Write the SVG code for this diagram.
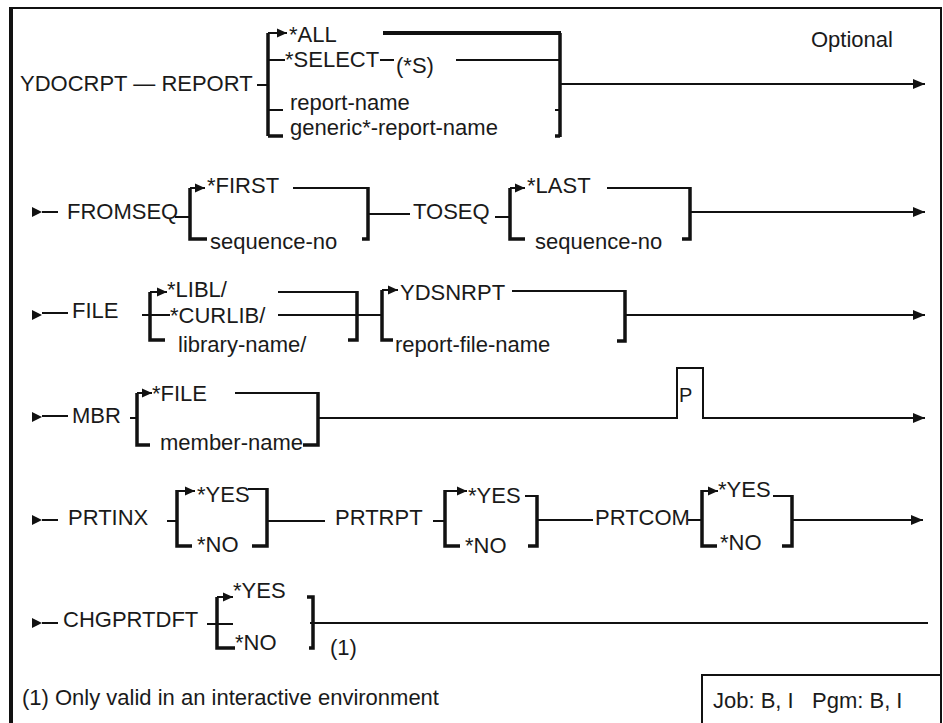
<svg xmlns="http://www.w3.org/2000/svg" width="943" height="723" viewBox="0 0 943 723">
<style>
text{font-family:"Liberation Sans",Arial,sans-serif;font-size:22px;fill:#1a1a1a}
.ln{fill:none;stroke:#111;stroke-width:2}
.br{fill:none;stroke:#111;stroke-width:3.5}
.thk{fill:none;stroke:#111;stroke-width:4}
.tri{fill:#111}
</style>
<defs>
<marker id="end" markerUnits="userSpaceOnUse" markerWidth="12" markerHeight="12" refX="12" refY="6" orient="auto"><path d="M0,1 L12,6 L0,11 z" fill="#111"/></marker>
<marker id="br-ar" markerUnits="userSpaceOnUse" markerWidth="10" markerHeight="10" refX="10" refY="5" orient="auto"><path d="M0,0.5 L10,5 L0,9.5 z" fill="#111"/></marker>
<path id="entry" d="M0,-5 L10,0 L0,5 z"/>
</defs>
<rect width="943" height="723" fill="#fff"/>
<g id="frame">
<path class="ln" d="M11,8 H941 V723"/>
<path class="thk" d="M11,7 V723"/>
</g>
<g id="connectors">
<!-- row 1 -->
<path class="ln" d="M257,85 H268"/>
<path class="br" d="M268,33 V136"/>
<path class="ln" d="M268,33 H287" marker-end="url(#br-ar)"/>
<path class="thk" d="M383,33 H561"/>
<path class="ln" d="M268,60 H285"/>
<path class="ln" d="M380,60 H394"/>
<path class="ln" d="M456,60 H560"/>
<path class="ln" d="M268,110 H283"/>
<path class="ln" d="M555,110 H560"/>
<path class="br" d="M283,136 H268"/>
<path class="br" d="M555,136 H560"/>
<path class="br" d="M560,33 V137"/>
<path class="ln" d="M560,84 H925" marker-end="url(#end)"/>
<!-- row 2 -->
<use href="#entry" x="32" y="212" class="tri"/>
<path class="ln" d="M42,212 H58"/>
<path class="ln" d="M175,217 H190"/>
<path class="br" d="M190,188 V239 H207"/>
<path class="ln" d="M190,188 H205" marker-end="url(#br-ar)"/>
<path class="ln" d="M293,188 H368"/>
<path class="br" d="M368,187 V239 H362"/>
<path class="ln" d="M368,214 H410"/>
<path class="ln" d="M495,217 H510"/>
<path class="br" d="M510,188 V239 H525"/>
<path class="ln" d="M510,188 H525" marker-end="url(#br-ar)"/>
<path class="ln" d="M607,188 H690"/>
<path class="br" d="M690,187 V239 H682"/>
<path class="ln" d="M690,212 H925" marker-end="url(#end)"/>
<!-- row 3 -->
<use href="#entry" x="32" y="315" class="tri"/>
<path class="ln" d="M42,313 H68"/>
<path class="ln" d="M142,315 H150"/>
<path class="br" d="M150,292 V340 H165"/>
<path class="ln" d="M150,292 H167" marker-end="url(#br-ar)"/>
<path class="ln" d="M278,292 H357"/>
<path class="ln" d="M150,315 H170"/>
<path class="ln" d="M278,315 H382"/>
<path class="br" d="M357,291 V340 H348"/>
<path class="br" d="M382,290 V340 H393"/>
<path class="ln" d="M382,290 H398" marker-end="url(#br-ar)"/>
<path class="ln" d="M512,291 H625"/>
<path class="br" d="M625,290 V341 H617"/>
<path class="ln" d="M625,315 H925" marker-end="url(#end)"/>
<!-- row 4 -->
<use href="#entry" x="32" y="417" class="tri"/>
<path class="ln" d="M42,416 H68"/>
<path class="ln" d="M130,418 H137"/>
<path class="br" d="M137,393 V445 H150"/>
<path class="ln" d="M137,393 H152" marker-end="url(#br-ar)"/>
<path class="ln" d="M235,393 H318"/>
<path class="br" d="M318,392 V445 H303"/>
<path class="ln" d="M318,418 H677 V368 H703 V418 H925" marker-end="url(#end)"/>
<!-- row 5 -->
<use href="#entry" x="32" y="520" class="tri"/>
<path class="ln" d="M42,520 H58"/>
<path class="ln" d="M167,521 H177"/>
<path class="br" d="M177,490 V546 H192"/>
<path class="ln" d="M177,491 H195" marker-end="url(#br-ar)"/>
<path class="ln" d="M248,489 H267"/>
<path class="br" d="M267,488 V546 H252"/>
<path class="ln" d="M267,521 H325"/>
<path class="ln" d="M433,521 H445"/>
<path class="br" d="M445,490 V546 H460"/>
<path class="ln" d="M445,491 H467" marker-end="url(#br-ar)"/>
<path class="ln" d="M525,496 H537"/>
<path class="br" d="M537,495 V546 H528"/>
<path class="ln" d="M537,520 H593"/>
<path class="ln" d="M688,520 H702"/>
<path class="br" d="M702,490 V546 H717"/>
<path class="ln" d="M702,491 H718" marker-end="url(#br-ar)"/>
<path class="ln" d="M773,496 H792"/>
<path class="br" d="M792,495 V546 H782"/>
<path class="ln" d="M792,520 H923" marker-end="url(#end)"/>
<!-- row 6 -->
<use href="#entry" x="32" y="623" class="tri"/>
<path class="ln" d="M42,623 H58"/>
<path class="ln" d="M207,624 H233"/>
<path class="br" d="M217,597 V648 H235"/>
<path class="ln" d="M217,597 H233" marker-end="url(#br-ar)"/>
<path class="br" d="M307,597 H313 V648 H309"/>
<path class="ln" d="M310,623 H928"/>
</g>
<g id="node-report">
<text x="20" y="91">YDOCRPT — REPORT</text>
<text x="289" y="42">*ALL</text>
<text x="285" y="67">*SELECT</text>
<text x="396" y="73">(*S)</text>
<text x="290" y="110">report-name</text>
<text x="290" y="135">generic*-report-name</text>
<text x="811" y="47">Optional</text>
</g>
<g id="node-seq">
<text x="67" y="219">FROMSEQ</text>
<text x="207" y="193">*FIRST</text>
<text x="210" y="249">sequence-no</text>
<text x="413" y="219">TOSEQ</text>
<text x="527" y="193">*LAST</text>
<text x="535" y="249">sequence-no</text>
</g>
<g id="node-file">
<text x="72" y="318">FILE</text>
<text x="167" y="297">*LIBL/</text>
<text x="170" y="323">*CURLIB/</text>
<text x="178" y="352">library-name/</text>
<text x="400" y="300">YDSNRPT</text>
<text x="395" y="352">report-file-name</text>
</g>
<g id="node-mbr">
<text x="72" y="423">MBR</text>
<text x="152" y="401">*FILE</text>
<text x="160" y="450">member-name</text>
<text x="679" y="402" style="font-size:20px">P</text>
</g>
<g id="node-prt">
<text x="68" y="525">PRTINX</text>
<text x="197" y="502">*YES</text>
<text x="197" y="552">*NO</text>
<text x="335" y="525">PRTRPT</text>
<text x="468" y="503">*YES</text>
<text x="465" y="553">*NO</text>
<text x="595" y="525">PRTCOM</text>
<text x="718" y="497">*YES</text>
<text x="720" y="550">*NO</text>
</g>
<g id="node-chgprtdft">
<text x="63" y="627">CHGPRTDFT</text>
<text x="233" y="598">*YES</text>
<text x="235" y="650">*NO</text>
<text x="330" y="655">(1)</text>
</g>
<g id="node-footnote">
<text x="22" y="705">(1) Only valid in an interactive environment</text>
</g>
<g id="node-job">
<path class="ln" d="M941,675 H702 V723"/>
<text x="713" y="708">Job: B, I<tspan x="812">Pgm: B, I</tspan></text>
</g>
</svg>
